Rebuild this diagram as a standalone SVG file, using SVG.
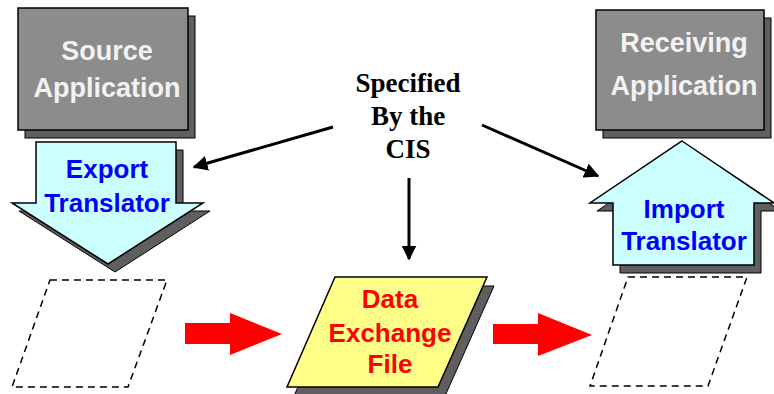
<svg xmlns="http://www.w3.org/2000/svg" width="774" height="394" viewBox="0 0 774 394">
<defs>
<style>
.shadow{fill:#5f5f5f;stroke:#000;stroke-width:1}
.app{fill:#8c8c8c;stroke:#000;stroke-width:1.5}
.apptxt{font-family:"Liberation Sans",Arial,sans-serif;font-weight:bold;font-size:27px;fill:#f2f2f2;text-anchor:middle}
.tr{fill:#ccffff;stroke:#000;stroke-width:1.5}
.trtxt{font-family:"Liberation Sans",Arial,sans-serif;font-weight:bold;font-size:26px;fill:#0000ff;text-anchor:middle}
.file{fill:#ffff88;stroke:#000;stroke-width:1.5}
.filetxt{font-family:"Liberation Sans",Arial,sans-serif;font-weight:bold;font-size:26px;fill:#ff0000;text-anchor:middle}
.dash{fill:none;stroke:#000;stroke-width:1.5;stroke-dasharray:7,5}
.cis{font-family:"Liberation Serif","Times New Roman",serif;font-weight:bold;font-size:27px;fill:#000;text-anchor:middle}
.conn{stroke:#000;stroke-width:3;fill:none}
.red{fill:#ff0000}
</style>
<marker id="ah" viewBox="0 0 10 10" refX="9" refY="5" markerWidth="5" markerHeight="5" orient="auto" markerUnits="strokeWidth">
<path d="M0,0 L10,5 L0,10 z" fill="#000"/>
</marker>
</defs>

<g id="source-app">
<rect class="shadow" x="25" y="16" width="170" height="122"/>
<rect class="app" x="18" y="8" width="170" height="122"/>
<text class="apptxt" x="107" y="60">Source</text>
<text class="apptxt" x="107" y="97">Application</text>
</g>

<g id="export-translator">
<polygon class="shadow" points="43,150 183,150 183,211 210,211 115,272 19,211 43,211"/>
<polygon class="tr" points="36,142 176,142 176,203 203,203 108,264 12,203 36,203"/>
<text class="trtxt" x="107" y="178">Export</text>
<text class="trtxt" x="107" y="212">Translator</text>
</g>

<g id="receiving-app">
<rect class="shadow" x="603" y="18" width="168" height="120"/>
<rect class="app" x="596" y="10" width="168" height="120"/>
<text class="apptxt" x="684" y="52">Receiving</text>
<text class="apptxt" x="684" y="95">Application</text>
</g>

<g id="import-translator">
<polygon class="shadow" points="689,149 781,211 761,211 761,273 620,273 620,211 597,211"/>
<polygon class="tr" points="682,141 774,203 754,203 754,265 613,265 613,203 590,203"/>
<text class="trtxt" x="684" y="218">Import</text>
<text class="trtxt" x="684" y="250">Translator</text>
</g>

<g id="cis">
<text class="cis" x="408" y="92">Specified</text>
<text class="cis" x="408" y="125">By the</text>
<text class="cis" x="408" y="158">CIS</text>
</g>

<g id="source-file">
<polygon class="dash" points="50,280 167,280 128,387 12,387"/>
</g>

<g id="data-exchange-file">
<polygon class="shadow" points="342,286 494,286 445,396 294,396"/>
<polygon class="file" points="335,277 487,277 438,387 287,387"/>
<text class="filetxt" x="390" y="308">Data</text>
<text class="filetxt" x="390" y="342">Exchange</text>
<text class="filetxt" x="390" y="373">File</text>
</g>

<g id="receiving-file">
<polygon class="dash" points="628,277 747,277 708,386 590,386"/>
</g>

<g id="connectors">
<line class="conn" x1="333" y1="127" x2="194" y2="167" marker-end="url(#ah)"/>
<line class="conn" x1="482" y1="125" x2="598" y2="176" marker-end="url(#ah)"/>
<line class="conn" x1="409" y1="178" x2="409" y2="259" marker-end="url(#ah)"/>
<polygon class="red" points="185,323 230,323 230,313 282,334 230,355 230,344 185,344"/>
<polygon class="red" points="493,324 538,324 538,313 592,335 538,356 538,344 493,344"/>
</g>
</svg>
